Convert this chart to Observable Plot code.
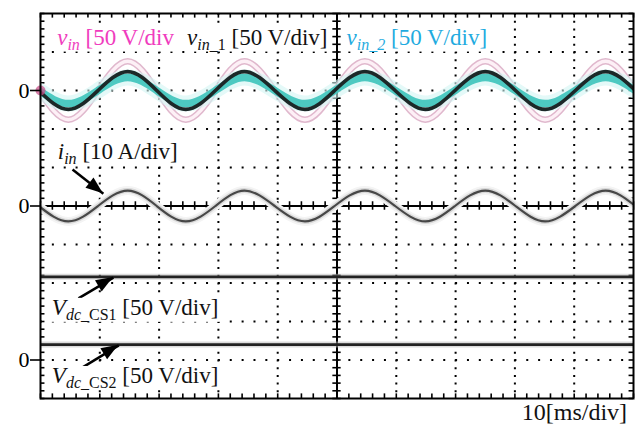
<!DOCTYPE html>
<html><head><meta charset="utf-8">
<script src="https://cdn.jsdelivr.net/npm/d3@7"></script>
<script src="https://cdn.jsdelivr.net/npm/@observablehq/plot@0.6"></script>
<style>
body{margin:0;background:#fff;}
#chart svg{display:block;}
</style></head><body><div id="chart"></div>
<script>
// Time samples (ms) at quarter-period points (zero, trough, zero, peak ...)
const tSine = [-0.3, 4.7, 9.7, 14.7, 19.6, 24.5, 29.5, 34.4, 39.5, 44.6, 49.6, 54.7, 59.8, 64.9, 69.9, 75.0, 80.1, 85.1, 90.2, 95.3, 100.3];
// v_in (V)
const vin  = [0, -38, 0, 38, 0, -38, 0, 38, 0, -38, 0, 38, 0, -38, 0, 38, 0, -38, 0, 38, 0];
// v_in_1 (V)
const vin1 = [0, -24.5, 0, 24.5, 0, -24.5, 0, 24.5, 0, -24.5, 0, 24.5, 0, -24.5, 0, 24.5, 0, -24.5, 0, 24.5, 0];
// v_in_2 (V)
const vin2 = [0, -17, 0, 17, 0, -17, 0, 17, 0, -17, 0, 17, 0, -17, 0, 17, 0, -17, 0, 17, 0];
// i_in (A)
const iin  = [0, -4, 0, 4, 0, -4, 0, 4, 0, -4, 0, 4, 0, -4, 0, 4, 0, -4, 0, 4, 0];
// DC-link voltages (V)
const tDc = [0, 100];
const vdcCS1 = [108, 108];
const vdcCS2 = [20, 20];

// channel zero levels (divisions from bottom) and scales (units per division)
const zeroLevels = [8, 5, 1];
const zeroLabels = ["0", "0", "0"];
const vinZero = 8, iinZero = 5, vdcZero = 1;
const voltPerDiv = 50, ampPerDiv = 10;

// grid
const gridX = [10, 20, 30, 40, 60, 70, 80, 90];
const gridY = [1, 2, 3, 4, 6, 7, 8, 9];
const minorX = d3.range(0, 100.01, 2);
const minorY = d3.range(0, 10.001, 0.2);

// annotation arrows (tail -> tip) in ms / div
const arrowX1 = [5.4, 6.4, 7.1];
const arrowY1 = [5.95, 2.6, 0.81];
const arrowX2 = [10.6, 12.3, 13.2];
const arrowY2 = [5.32, 3.14, 1.38];
const arrows = arrowX1.map((x1, i) => ({x1, y1: arrowY1[i], x2: arrowX2[i], y2: arrowY2[i]}));

const chMarker = [{t: 0, y: vinZero}];

const rows = (vals, zero, per, ts = tSine) => ts.map((t, i) => ({t, y: zero + vals[i] / per}));
const vinRows = rows(vin, vinZero, voltPerDiv);
const vin1Rows = rows(vin1, vinZero, voltPerDiv);
const vin2Rows = rows(vin2, vinZero, voltPerDiv);
const iinRows = rows(iin, iinZero, ampPerDiv);
const cs1Rows = rows(vdcCS1, vdcZero, voltPerDiv, tDc);
const cs2Rows = rows(vdcCS2, vdcZero, voltPerDiv, tDc);

const L = (data, o) => Plot.line(data, {x: "t", y: "y", curve: "natural", clip: true, ...o});

const plot = Plot.plot({
  width: 642, height: 426,
  marginLeft: 40, marginRight: 9, marginTop: 13, marginBottom: 28,
  x: {domain: [0, 100], axis: null},
  y: {domain: [0, 10]},
  style: {fontFamily: "Liberation Serif", fontSize: "22px", background: "#fff", overflow: "visible"},
  marks: [
    Plot.ruleX(gridX, {stroke: "#000", strokeWidth: 2, strokeDasharray: "2 5.7"}),
    Plot.ruleY(gridY, {stroke: "#000", strokeWidth: 2, strokeDasharray: "2 9.86"}),
    Plot.ruleX([50], {stroke: "#000", strokeWidth: 2}),
    Plot.ruleY([5], {stroke: "#000", strokeWidth: 2}),
    Plot.ruleX(minorX, {y1: 10, y2: 9.88, stroke: "#000", strokeWidth: 1.6}),
    Plot.ruleX(minorX, {y1: 0, y2: 0.12, stroke: "#000", strokeWidth: 1.6}),
    Plot.ruleX(minorX, {y1: 4.89, y2: 5.11, stroke: "#000", strokeWidth: 1.6}),
    Plot.ruleY(minorY, {x1: 0, x2: 0.75, stroke: "#000", strokeWidth: 1.6}),
    Plot.ruleY(minorY, {x1: 99.25, x2: 100, stroke: "#000", strokeWidth: 1.6}),
    Plot.ruleY(minorY, {x1: 49.3, x2: 50.7, stroke: "#000", strokeWidth: 1.6}),
    // traces
    L(vinRows, {stroke: "#d39ab8", strokeWidth: 6.5, strokeOpacity: 0.7}),
    L(vinRows, {stroke: "#fdf0f6", strokeWidth: 3.4}),
    L(vin2Rows, {stroke: "#d2f5f3", strokeWidth: 16, strokeOpacity: 0.6}),
    L(vin2Rows, {stroke: "#45c6be", strokeWidth: 7.5, strokeOpacity: 0.95}),
    L(vin1Rows, {stroke: "#1c2828", strokeWidth: 3.6}),
    Plot.dot(chMarker, {x: "t", y: "y", r: 5, fill: "#c8508a", fillOpacity: 0.75}),
    L(iinRows, {stroke: "#f4f4f4", strokeWidth: 9}),
    L(iinRows, {stroke: "#bdbdbd", strokeWidth: 5, strokeOpacity: 0.5}),
    L(iinRows, {stroke: "#474747", strokeWidth: 2.2}),
    L(cs1Rows, {stroke: "#b8b8b8", strokeWidth: 6, strokeOpacity: 0.5, curve: "linear"}),
    L(cs1Rows, {stroke: "#222", strokeWidth: 2.6, curve: "linear"}),
    L(cs2Rows, {stroke: "#b8b8b8", strokeWidth: 6, strokeOpacity: 0.5, curve: "linear"}),
    L(cs2Rows, {stroke: "#222", strokeWidth: 2.6, curve: "linear"}),
    Plot.link(arrows, {x1: "x1", y1: "y1", x2: "x2", y2: "y2", stroke: "#000", strokeWidth: 2.5}),
    Plot.frame({stroke: "#000", strokeWidth: 2}),
    Plot.axisY(zeroLevels, {tickFormat: (d, i) => zeroLabels[i], tickSize: 10, tickPadding: 1, fontSize: 22, strokeWidth: 1.6, label: null})
  ]
});
document.getElementById("chart").append(plot);

const sx = plot.scale("x").apply, sy = plot.scale("y").apply;
const svg = d3.select(plot);

// labels; parts: [text, italic, subscript]
const labelX = [2.9, 24.8, 51.7, 3.0, 2.0, 2.0];
const labelY = [9.18, 9.18, 9.18, 6.21, 2.16, 0.39];
const labelColor = ["#f03cbe", "#111", "#1fabe0", "#111", "#111", "#111"];
const labelParts = [
  [["v", 1, 0], ["in", 1, 1], [" [50 V/div", 0, 0]],
  [["v", 1, 0], ["in", 1, 1], ["_1", 0, 1], [" [50 V/div]", 0, 0]],
  [["v", 1, 0], ["in", 1, 1], ["_2", 1, 1], [" [50 V/div]", 0, 0]],
  [["i", 1, 0], ["in", 1, 1], [" [10 A/div]", 0, 0]],
  [["V", 1, 0], ["dc", 1, 1], ["_CS1", 0, 1], [" [50 V/div]", 0, 0]],
  [["V", 1, 0], ["dc", 1, 1], ["_CS2", 0, 1], [" [50 V/div]", 0, 0]]
];
const g = svg.append("g").attr("font-family", "Liberation Serif").attr("font-size", 23).attr("text-anchor", "start");
labelParts.forEach((parts, i) => {
  const bg = g.append("rect").attr("fill", "#fff");
  const t = g.append("text").attr("x", sx(labelX[i])).attr("y", sy(labelY[i])).attr("fill", labelColor[i])
    .attr("text-anchor", "start").style("white-space", "pre");
  let sub = false;
  parts.forEach(([s, it, sb]) => {
    const span = t.append("tspan").text(s).attr("font-style", it ? "italic" : "normal");
    if (sb) span.attr("font-size", 16);
    if (sb && !sub) span.attr("dy", 5);
    if (!sb && sub) span.attr("dy", -5);
    sub = !!sb;
  });
  const b = t.node().getBBox();
  bg.attr("x", b.x - 2).attr("y", b.y + 3).attr("width", b.width + 4).attr("height", b.height - 4);
});

// arrowheads
const heads = svg.append("g");
arrows.forEach(a => {
  const tx = sx(a.x2), ty = sy(a.y2), fx = sx(a.x1), fy = sy(a.y1);
  const dx = tx - fx, dy = ty - fy, len = Math.hypot(dx, dy);
  const ux = dx / len, uy = dy / len, nx = -uy, ny = ux;
  const Lh = 17, w = 6.5;
  const bx = tx - ux * Lh, by = ty - uy * Lh;
  heads.append("polygon")
    .attr("points", [[tx, ty], [bx + nx * w, by + ny * w], [bx - nx * w, by - ny * w]].map(p => p.join(",")).join(" "))
    .attr("fill", "#000");
});

// time-base label
const tbText = ["10[ms/div]"];
const tbX = [99.0], tbY = [-0.57];
g.append("text").attr("x", sx(tbX[0])).attr("y", sy(tbY[0])).attr("text-anchor", "end").attr("font-size", 24).attr("fill", "#111").text(tbText[0]);
</script>
</body></html>
